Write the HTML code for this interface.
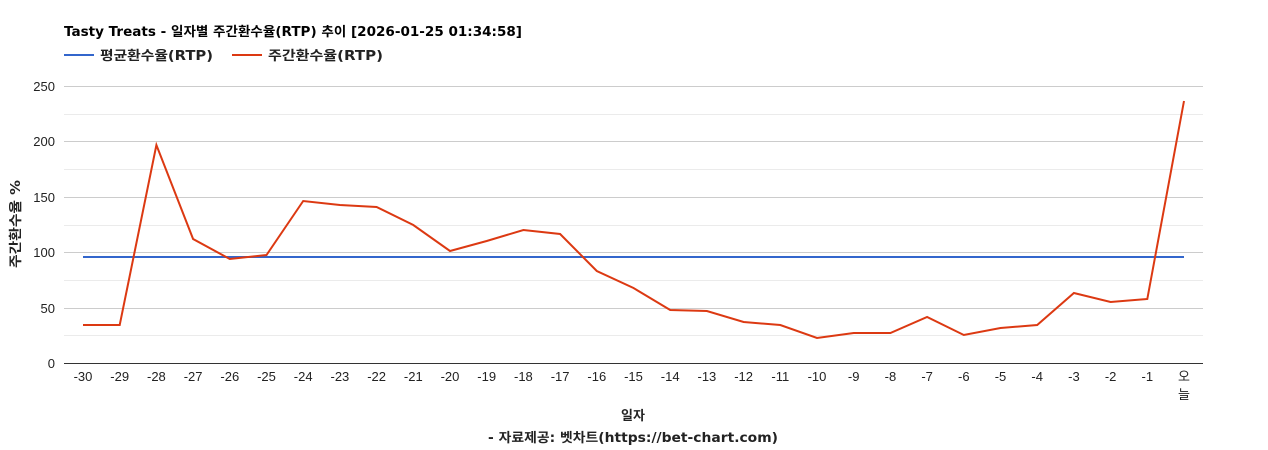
<!DOCTYPE html>
<html><head><meta charset="utf-8">
<style>
html,body{margin:0;padding:0;background:#fff;}
svg{display:block;font-family:"Liberation Sans","Noto Sans CJK KR",sans-serif;}
.b{font-family:"DejaVu Sans","Noto Sans CJK KR",sans-serif;font-weight:bold;}
</style></head>
<body>
<svg width="1268" height="450" viewBox="0 0 1268 450" xmlns="http://www.w3.org/2000/svg">
<text class="b" x="64" y="36" font-size="13" fill="#000" textLength="458" lengthAdjust="spacingAndGlyphs">Tasty Treats - 일자별 주간환수율(RTP) 추이 [2026-01-25 01:34:58]</text>
<line x1="64" y1="55" x2="94" y2="55" stroke="#3366cc" stroke-width="2"/>
<text class="b" x="100" y="60" font-size="13" fill="#222" textLength="113" lengthAdjust="spacingAndGlyphs">평균환수율(RTP)</text>
<line x1="232" y1="55" x2="262" y2="55" stroke="#dc3912" stroke-width="2"/>
<text class="b" x="268" y="60" font-size="13" fill="#222" textLength="115" lengthAdjust="spacingAndGlyphs">주간환수율(RTP)</text>
<g stroke="#ebebeb" stroke-width="1">
<line x1="64" y1="335.5" x2="1203" y2="335.5"/><line x1="64" y1="280.5" x2="1203" y2="280.5"/><line x1="64" y1="225.5" x2="1203" y2="225.5"/><line x1="64" y1="169.5" x2="1203" y2="169.5"/><line x1="64" y1="114.5" x2="1203" y2="114.5"/>
</g>
<g stroke="#cccccc" stroke-width="1">
<line x1="64" y1="308.5" x2="1203" y2="308.5"/><line x1="64" y1="252.5" x2="1203" y2="252.5"/><line x1="64" y1="197.5" x2="1203" y2="197.5"/><line x1="64" y1="141.5" x2="1203" y2="141.5"/><line x1="64" y1="86.5" x2="1203" y2="86.5"/>
</g>
<line x1="64" y1="363.5" x2="1203" y2="363.5" stroke="#333" stroke-width="1"/>
<g font-size="13" fill="#222" text-anchor="end">
<text x="55" y="368">0</text><text x="55" y="313">50</text><text x="55" y="257">100</text><text x="55" y="202">150</text><text x="55" y="146">200</text><text x="55" y="91">250</text>
</g>
<text class="b" transform="translate(20,224) rotate(-90)" font-size="13" text-anchor="middle" fill="#222" textLength="88" lengthAdjust="spacingAndGlyphs">주간환수율 %</text>
<line x1="83" y1="257" x2="1184" y2="257" stroke="#3366cc" stroke-width="2"/>
<polyline fill="none" stroke="#dc3912" stroke-width="2" points="83,325 119.7,325 156.4,145 193.1,239 229.8,259 266.5,255 303.2,201 339.9,205 376.6,207 413.3,225 450,251 486.7,241 523.4,230 560.1,234 596.8,271 633.5,288 670.2,310 706.9,311 743.6,322 780.3,325 817,338 853.7,333 890.4,333 927.1,317 963.8,335 1000.5,328 1037.2,325 1073.9,293 1110.6,302 1147.3,299 1184,101"/>
<g font-size="13" fill="#222" text-anchor="middle">
<text x="83" y="381">-30</text><text x="119.7" y="381">-29</text><text x="156.4" y="381">-28</text><text x="193.1" y="381">-27</text><text x="229.8" y="381">-26</text><text x="266.5" y="381">-25</text><text x="303.2" y="381">-24</text><text x="339.9" y="381">-23</text><text x="376.6" y="381">-22</text><text x="413.3" y="381">-21</text><text x="450" y="381">-20</text><text x="486.7" y="381">-19</text><text x="523.4" y="381">-18</text><text x="560.1" y="381">-17</text><text x="596.8" y="381">-16</text><text x="633.5" y="381">-15</text><text x="670.2" y="381">-14</text><text x="706.9" y="381">-13</text><text x="743.6" y="381">-12</text><text x="780.3" y="381">-11</text><text x="817" y="381">-10</text><text x="853.7" y="381">-9</text><text x="890.4" y="381">-8</text><text x="927.1" y="381">-7</text><text x="963.8" y="381">-6</text><text x="1000.5" y="381">-5</text><text x="1037.2" y="381">-4</text><text x="1073.9" y="381">-3</text><text x="1110.6" y="381">-2</text><text x="1147.3" y="381">-1</text><text x="1184" y="381">오</text><text x="1184" y="399">늘</text>
</g>
<text class="b" x="633" y="420" font-size="13" text-anchor="middle" fill="#222">일자</text>
<text class="b" x="633" y="442" font-size="13" text-anchor="middle" fill="#222" textLength="290" lengthAdjust="spacingAndGlyphs">- 자료제공: 벳차트(https://bet-chart.com)</text>
</svg>
</body></html>
